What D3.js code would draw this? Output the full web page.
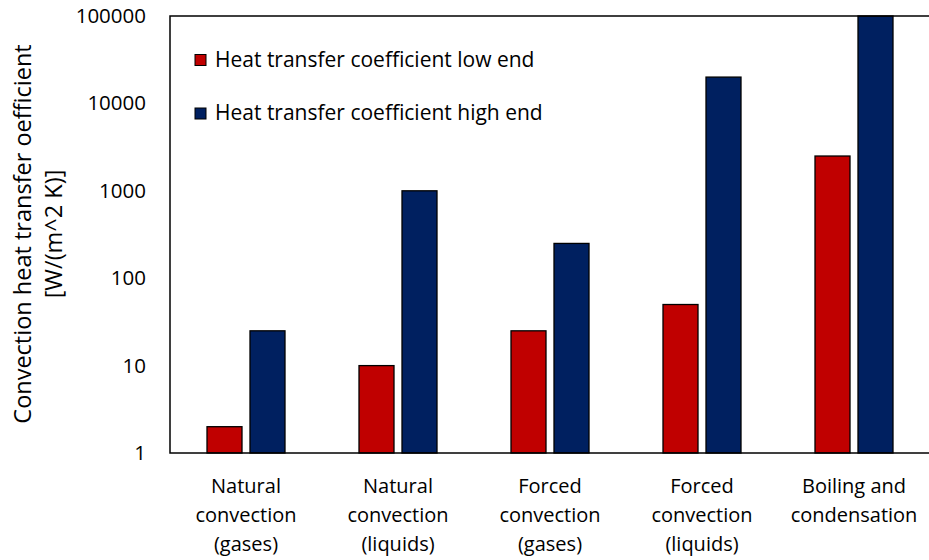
<!DOCTYPE html>
<html><head><meta charset="utf-8">
<script src="https://cdn.jsdelivr.net/npm/d3@7"></script>
<style>body{margin:0;background:#fff;} text{font-family:"Open Sans", sans-serif;fill:#000;}</style>
</head><body><svg id="c" width="929" height="560"></svg>
<script>
const categories = [["Natural","convection","(gases)"],["Natural","convection","(liquids)"],["Forced","convection","(gases)"],["Forced","convection","(liquids)"],["Boiling and","condensation"]];
const seriesNames = ["Heat transfer coefficient low end","Heat transfer coefficient high end"];
const lowEnd = [2, 10, 25, 50, 2500];
const highEnd = [25, 1000, 250, 20000, 100000];
const yTicks = [1, 10, 100, 1000, 10000, 100000];
const colors = ["#C00000", "#002060"];

const svg = d3.select("#c");
const m = {left:170, top:16, right:930, bottom:453};
const x = d3.scaleBand().domain(d3.range(categories.length)).range([m.left, m.right]);
const xs = d3.scaleBand().domain([0,1]).range([0, 78]).paddingInner(0.186);
const y = d3.scaleLog().domain([1, 100000]).range([m.bottom, m.top]);

const series = [lowEnd, highEnd];
series.forEach((vals, si) => {
  svg.append("g").selectAll("rect").data(vals).join("rect")
    .attr("x", (d,i) => x(i) + x.bandwidth()/2 - 39 + xs(si))
    .attr("width", xs.bandwidth())
    .attr("y", d => y(d))
    .attr("height", d => y(1) - y(d))
    .attr("fill", colors[si]).attr("stroke", "#000").attr("stroke-width", 1.3);
});

// frame
svg.append("rect").attr("x", m.left).attr("y", m.top).attr("width", m.right-m.left).attr("height", m.bottom-m.top)
  .attr("fill","none").attr("stroke","#000").attr("stroke-width",1.5);

const yAxis = d3.axisLeft(y).tickValues(yTicks).tickFormat(d3.format("d")).tickSize(0).tickPadding(24);
const ga = svg.append("g").attr("transform", `translate(${m.left},0)`).call(yAxis);
ga.select(".domain").remove();
ga.selectAll("text").style("font-size","20.5px").style("font-family","'Open Sans', sans-serif");

// x labels
categories.forEach((lines, i) => {
  const cx = x(i) + x.bandwidth()/2;
  const t = svg.append("text").attr("text-anchor","middle").attr("font-size","20px");
  lines.forEach((l, k) => t.append("tspan").attr("x", cx).attr("y", 493 + k*29).text(l));
});

// y title
const yt = svg.append("text").attr("transform","translate(31,234) rotate(-90)").attr("text-anchor","middle").attr("font-size","23.5px");
yt.append("tspan").attr("x",0).attr("y",0).text("Convection heat transfer oefficient");
yt.append("tspan").attr("x",0).attr("y",31).text("[W/(m^2 K)]");

// legend
seriesNames.forEach((n, i) => {
  const by = 66.5 + i*53.5;
  svg.append("rect").attr("x",195).attr("y",by-12).attr("width",11).attr("height",11)
    .attr("fill",colors[i]).attr("stroke","#000").attr("stroke-width",1);
  svg.append("text").attr("x",215).attr("y",by).attr("font-size","21px").text(n);
});
</script></body></html>
